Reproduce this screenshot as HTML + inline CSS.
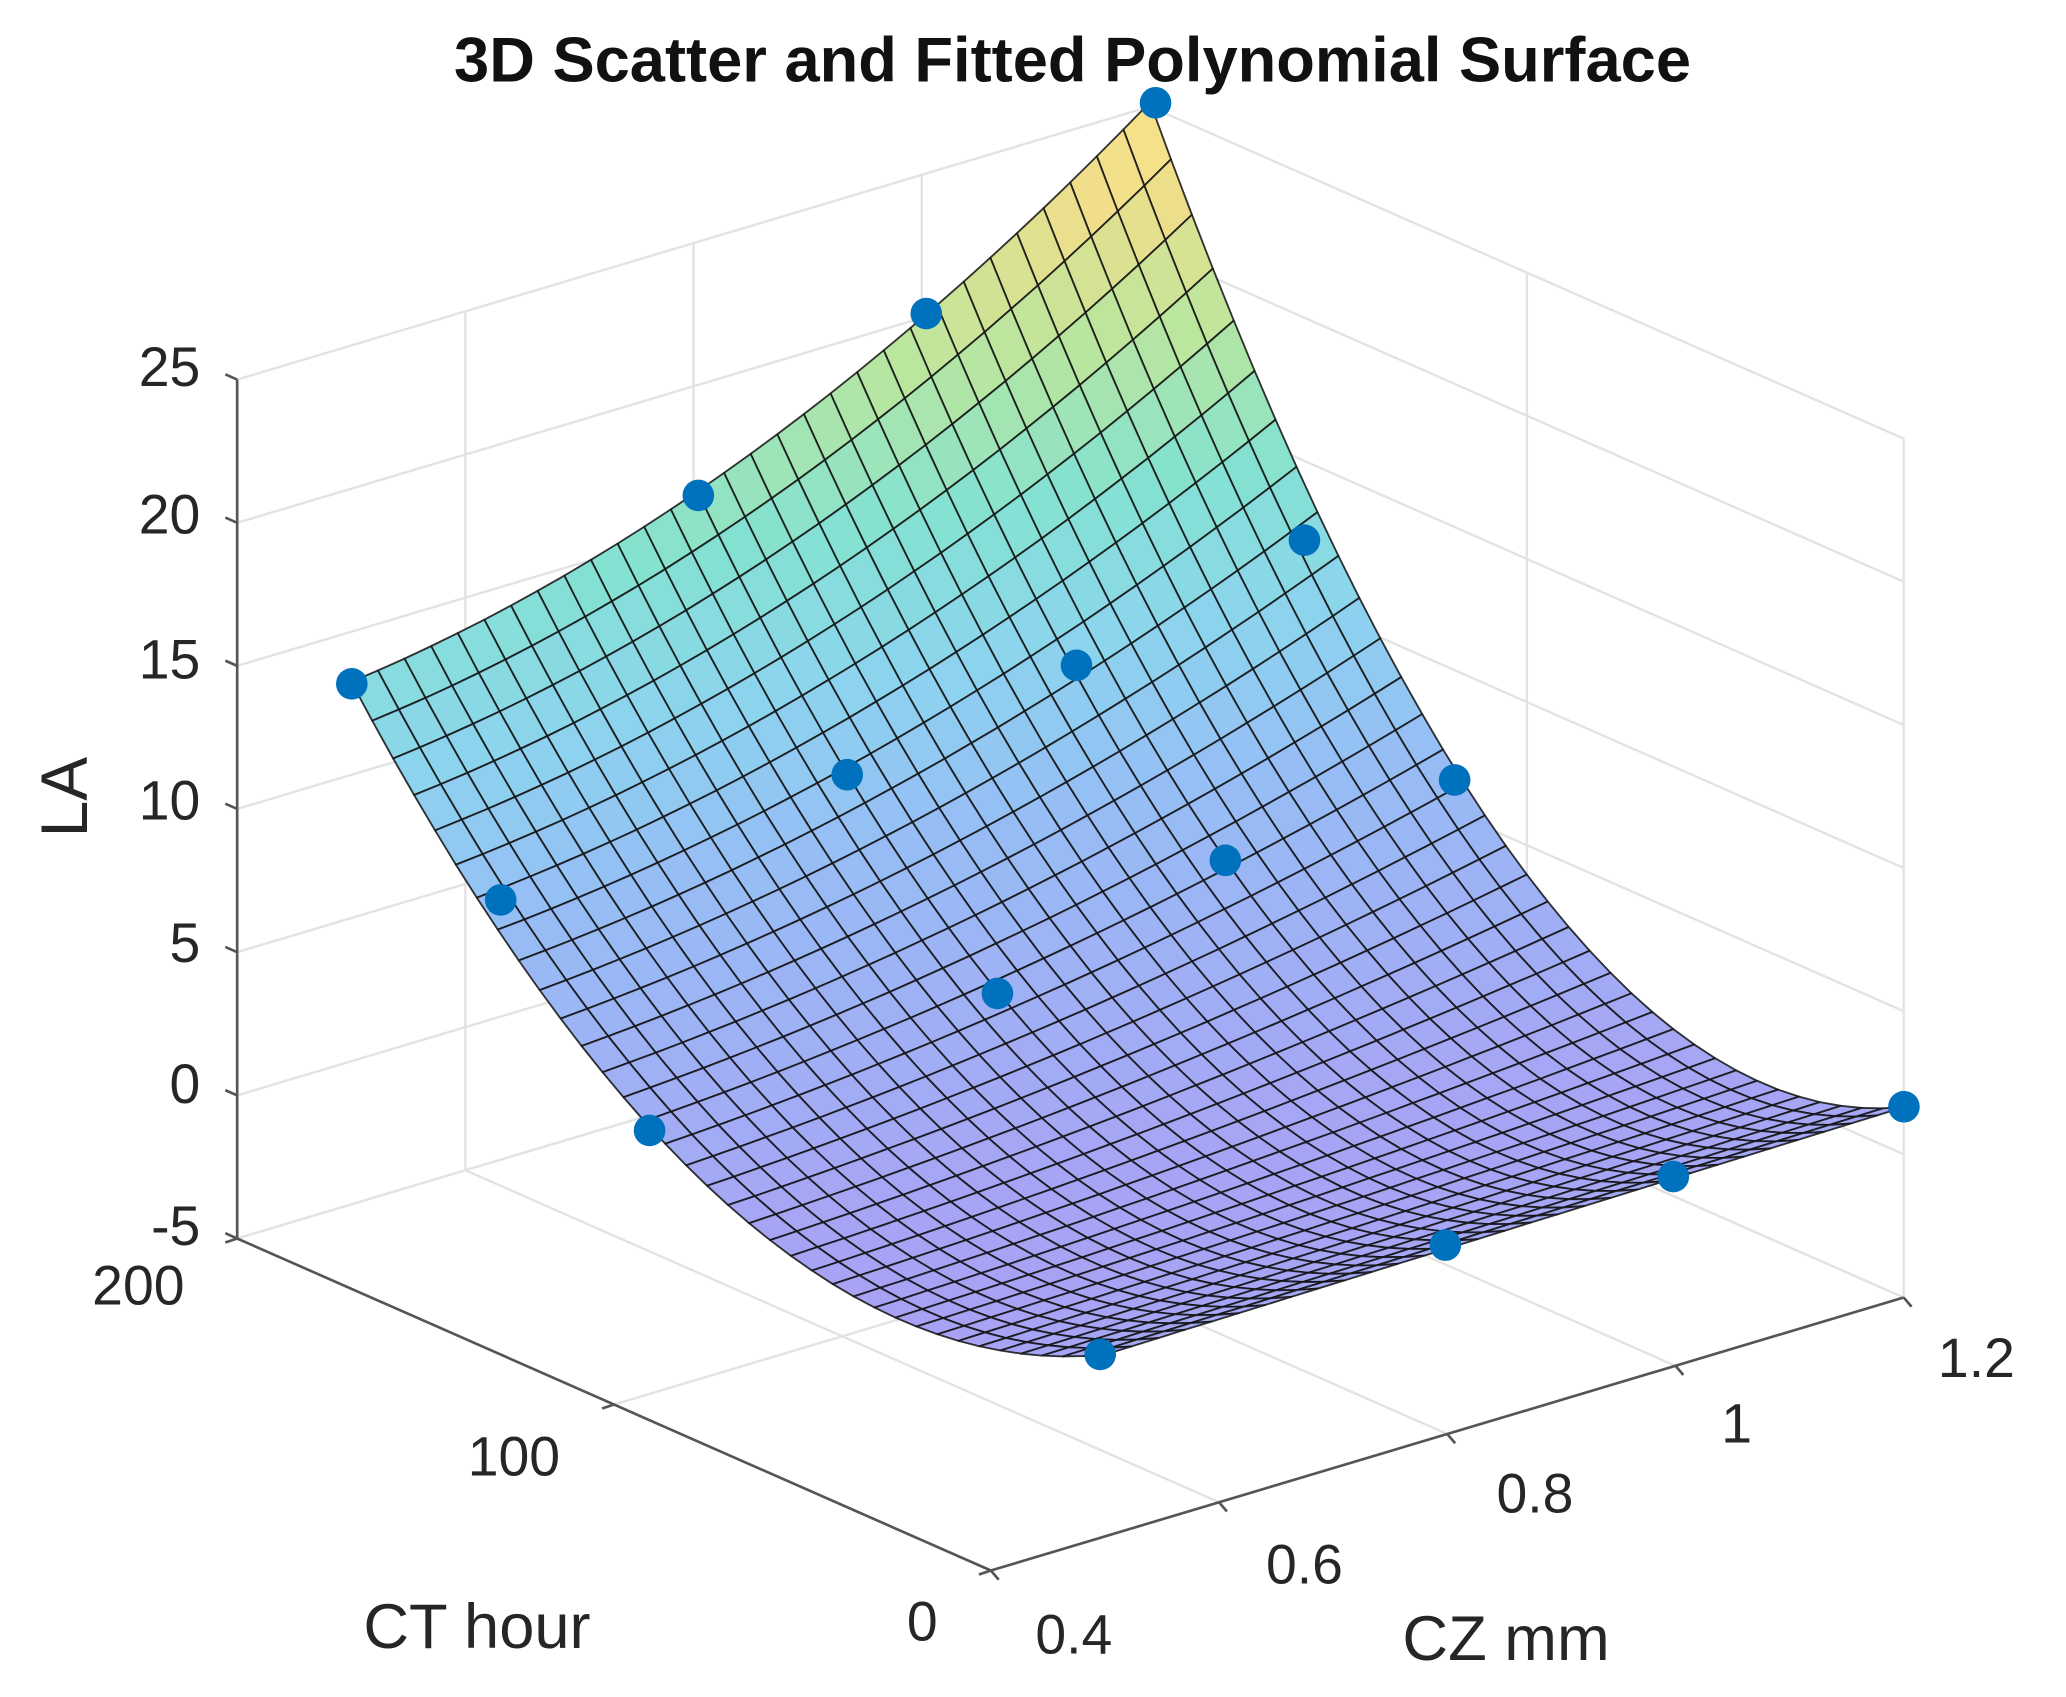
<!DOCTYPE html>
<html><head><meta charset="utf-8"><style>
html,body{margin:0;padding:0;background:#fff;}
svg{display:block;}
text{font-family:"Liberation Sans",sans-serif;fill:#262626;}
</style></head><body>
<svg id="s" width="2066" height="1697" viewBox="0 0 1568 1288" preserveAspectRatio="none" xmlns="http://www.w3.org/2000/svg">
<g id="grid" stroke="#e3e3e3" stroke-width="1.8" fill="none"></g>
<g id="axes" stroke="#555" stroke-width="2" fill="none"></g>
<g id="surf"></g>
<g id="pts" fill="#0072BD"></g>
<text x="814" y="62" text-anchor="middle" font-size="48" font-weight="bold" style="fill:#111">3D Scatter and Fitted Polynomial Surface</text>
<g font-size="42" text-anchor="end">
<text x="152" y="293">25</text><text x="152" y="405">20</text><text x="152" y="515">15</text>
<text x="152" y="622">10</text><text x="152" y="730">5</text><text x="152" y="837">0</text><text x="152" y="945">-5</text>
</g>
<g font-size="42" text-anchor="middle">
<text x="105" y="990">200</text><text x="390" y="1120">100</text><text x="700" y="1245">0</text>
<text x="815" y="1255">0.4</text><text x="990" y="1202">0.6</text><text x="1165" y="1148">0.8</text>
<text x="1318" y="1095">1</text><text x="1500" y="1045">1.2</text>
</g>
<text x="362" y="1251" font-size="48" text-anchor="middle">CT hour</text>
<text x="1143" y="1260" font-size="48" text-anchor="middle">CZ mm</text>
<text transform="translate(66,605) rotate(-90)" font-size="50" text-anchor="middle">LA</text>
</svg>
<script>
var NS="http://www.w3.org/2000/svg";
function P(ct,cz,z){return [752+866*(cz-0.4)-2.86*ct, 1192-259*(cz-0.4)-1.26*ct-21.73*(z+5)];}
function el(p,tag,a){var e=document.createElementNS(NS,tag);for(var k in a)e.setAttribute(k,a[k]);p.appendChild(e);return e;}
function line(g,a,b){el(g,"line",{x1:a[0].toFixed(1),y1:a[1].toFixed(1),x2:b[0].toFixed(1),y2:b[1].toFixed(1)});}
var G=document.getElementById("grid"),A=document.getElementById("axes");
var zs=[-5,0,5,10,15,20,25],czs=[0.4,0.6,0.8,1.0,1.2],cts=[0,100,200];
zs.forEach(function(z){line(G,P(200,0.4,z),P(200,1.2,z));line(G,P(200,1.2,z),P(0,1.2,z));});
czs.forEach(function(c){line(G,P(200,c,-5),P(200,c,25));line(G,P(0,c,-5),P(200,c,-5));});
cts.forEach(function(t){line(G,P(t,1.2,-5),P(t,1.2,25));line(G,P(t,0.4,-5),P(t,1.2,-5));});
line(A,P(200,0.4,-5),P(200,0.4,25));
line(A,P(200,0.4,-5),P(0,0.4,-5));
line(A,P(0,0.4,-5),P(0,1.2,-5));
zs.forEach(function(z){var p=P(200,0.4,z);line(A,p,[p[0]-9,p[1]-4]);});
cts.forEach(function(t){var p=P(t,0.4,-5);line(A,p,[p[0]-9,p[1]+3]);});
czs.forEach(function(c){var p=P(0,c,-5);line(A,p,[p[0]+6,p[1]+7]);});
function Z(t,s){var Pt=1.35-14.2*t+26.1*t*t;return Pt+s*(0.3+2.97*t*t)+s*s*8.63*t*t;}
var stops=[[0,[168,162,245]],[0.3,[150,190,245]],[0.45,[140,212,238]],[0.6,[132,226,208]],[0.75,[185,230,158]],[0.9,[240,222,138]],[1,[250,228,140]]];
function col(z){var u=(z+0.6)/25.7;u=Math.max(0,Math.min(1,u));for(var i=1;i<stops.length;i++){if(u<=stops[i][0]){var a=stops[i-1],b=stops[i],f=(u-a[0])/(b[0]-a[0]);return "rgb("+[0,1,2].map(function(k){return Math.round(a[1][k]+f*(b[1][k]-a[1][k]));}).join(",")+")";}}return "rgb(250,228,140)";}
var S=document.getElementById("surf"),N=36,M=30,quads=[];
for(var i=0;i<N;i++)for(var j=0;j<M;j++){quads.push([i,j,i/N+j/M]);}
quads.sort(function(a,b){return b[2]-a[2];});
quads.forEach(function(q){var i=q[0],j=q[1];var pts=[[i,j],[i+1,j],[i+1,j+1],[i,j+1]].map(function(v){var t=v[0]/N,s=v[1]/M;return P(200*t,0.5+0.7*s,Z(t,s));});
var zc=Z((i+.5)/N,(j+.5)/M);
el(S,"polygon",{points:pts.map(function(p){return p[0].toFixed(1)+","+p[1].toFixed(1);}).join(" "),fill:col(zc),stroke:"#111","stroke-width":"1.4","stroke-opacity":"0.85","stroke-linejoin":"round"});});
var D=[[877,78],[703,238],[530,376],[267,519],[990,410],[817,505],[643,588],[380,683],[1104,592],[930,653],[757,754],[493,858],[1445,840],[1270,893],[1097,945],[835,1028]];
var PT=document.getElementById("pts");D.forEach(function(d){el(PT,"circle",{cx:d[0],cy:d[1],r:12});});
</script>
</body></html>
